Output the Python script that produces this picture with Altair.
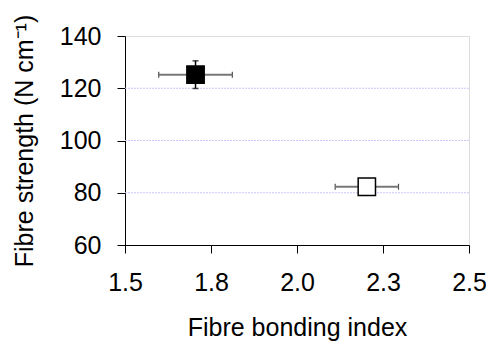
import altair as alt
import pandas as pd

bonding = [1.705, 2.203]
bonding_err = [0.107, 0.092]
strength = [125.2, 82.3]
strength_err = [5.3, 2.0]
fills = ["black", "white"]
labels = ["A", "B"]

df = pd.DataFrame({
    "s": labels,
    "x": bonding,
    "xlo": [a - b for a, b in zip(bonding, bonding_err)],
    "xhi": [a + b for a, b in zip(bonding, bonding_err)],
    "y": strength,
    "ylo": [a - b for a, b in zip(strength, strength_err)],
    "yhi": [a + b for a, b in zip(strength, strength_err)],
    "fill": fills,
})

FONT = "Liberation Sans"
XT = "Fibre bonding index"
YT = "Fibre strength (N cm⁻¹)"
xscale = alt.Scale(domain=[1.5, 2.5], nice=False, zero=False)
yscale = alt.Scale(domain=[60, 140], nice=False, zero=False)

xaxis = alt.Axis(
    title=XT, values=[1.5, 1.75, 2.0, 2.25, 2.5],
    labelExpr="format(datum.value, '.1f')", labelFlush=False,
    grid=False, domainColor="#000", tickColor="#000", tickSize=8,
    labelFontSize=25, labelFont=FONT, labelColor="#000", labelPadding=17,
    titleFontSize=25, titleFont=FONT, titleColor="#000", titleFontWeight="normal",
    titlePadding=20,
)
yaxis = alt.Axis(
    title=YT, values=[60, 80, 100, 120, 140], labelFlush=False,
    grid=False, domainColor="#000", tickColor="#000", tickSize=8,
    labelFontSize=25, labelFont=FONT, labelColor="#000", labelPadding=16,
    titleFontSize=25, titleFont=FONT, titleColor="#000", titleFontWeight="normal",
    titlePadding=22,
)

base = alt.Chart(df)

grid = alt.Chart(pd.DataFrame({"g": [80, 100, 120]})).mark_rule(
    color="#c8c8f8", strokeDash=[2, 1], strokeWidth=1
).encode(y=alt.Y("g:Q", scale=yscale, axis=yaxis, title=YT))

xerr = base.mark_errorbar(ticks=alt.TickConfig(size=6, color="#000", thickness=1.2), color="#777", thickness=2).encode(
    x=alt.X("xlo:Q", scale=xscale, axis=xaxis, title=XT),
    x2="xhi:Q",
    y=alt.Y("y:Q", scale=yscale, title=YT),
)
yerr = base.mark_errorbar(ticks=alt.TickConfig(size=6, color="#000", thickness=1.5), color="#000", thickness=1.5).encode(
    y=alt.Y("ylo:Q", scale=yscale, title=YT),
    y2="yhi:Q",
    x=alt.X("x:Q", scale=xscale, title=XT),
)
pts = base.mark_point(shape="square", size=300, opacity=1, filled=True, stroke="#000", strokeWidth=1.5).encode(
    x=alt.X("x:Q", scale=xscale, title=XT),
    y=alt.Y("y:Q", scale=yscale, title=YT),
    fill=alt.Fill("fill:N", scale=None),
)

chart = alt.layer(grid, xerr, yerr, pts).properties(
    width=344, height=209,
    autosize=alt.AutoSizeParams(type="none"),
    padding={"left": 117, "top": 28, "right": 17, "bottom": 96},
).configure_view(stroke=None).configure(background="white")

chart.save("out.html", embed_options={"renderer": "svg", "actions": False})
